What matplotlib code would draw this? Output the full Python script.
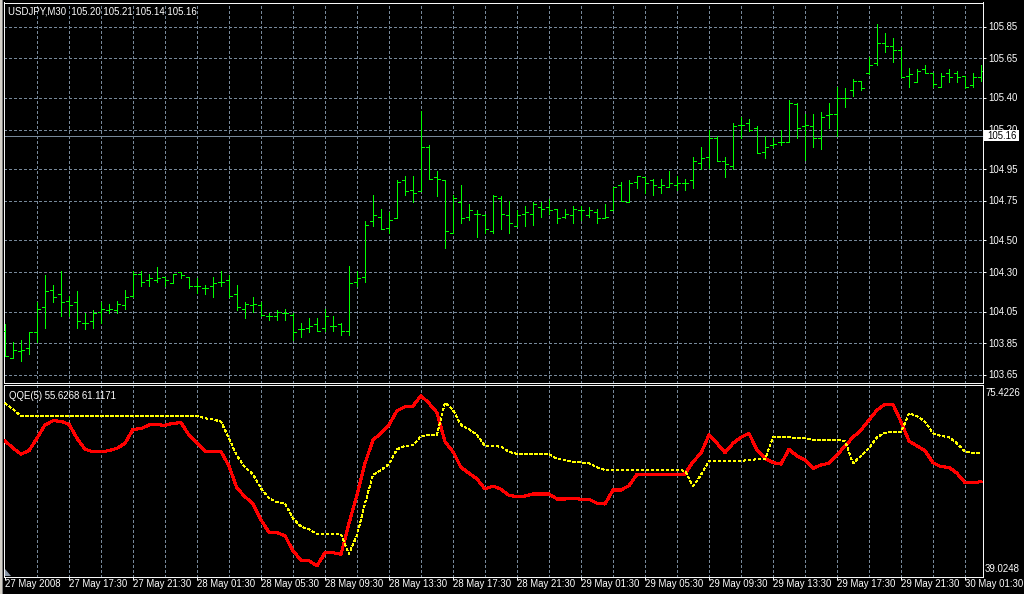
import numpy as np
import matplotlib
matplotlib.use("Agg")
import matplotlib.pyplot as plt
import matplotlib.transforms as mtransforms
from matplotlib.patches import Rectangle, Polygon

# ---------- данные (USDJPY M30, 123 бара) ----------
opens = [103.93, 103.76, 103.80, 103.82, 103.92, 104.08, 104.19, 104.16, 104.12, 104.11,
         103.98, 103.99, 104.05, 104.06, 104.06, 104.09, 104.15, 104.29, 104.25, 104.25,
         104.27, 104.23, 104.30, 104.27, 104.21, 104.20, 104.21, 104.24, 104.25, 104.16,
         104.07, 104.09, 104.09, 104.02, 104.02, 104.04, 104.03, 103.94, 103.95, 103.97,
         103.95, 103.96, 103.97, 103.93, 104.24, 104.27, 104.62, 104.65, 104.58, 104.64,
         104.88, 104.82, 104.81, 105.09, 104.90, 104.88, 104.55, 104.74, 104.65, 104.67,
         104.66, 104.56, 104.77, 104.66, 104.59, 104.67, 104.67, 104.71, 104.71, 104.70,
         104.65, 104.66, 104.69, 104.66, 104.68, 104.64, 104.69, 104.85, 104.74, 104.87,
         104.90, 104.88, 104.84, 104.84, 104.85, 104.86, 104.88, 104.99, 105.03, 105.15,
         105.00, 104.97, 105.23, 105.24, 105.21, 105.06, 105.10, 105.12, 105.12, 105.36,
         105.22, 105.22, 105.15, 105.29, 105.30, 105.40, 105.45, 105.51, 105.56, 105.62,
         105.75, 105.73, 105.70, 105.54, 105.50, 105.58, 105.56, 105.47, 105.56, 105.56,
         105.54, 105.48, 105.53]
highs = [103.97, 103.86, 103.87, 103.92, 104.11, 104.28, 104.22, 104.31, 104.15, 104.18,
         104.04, 104.06, 104.11, 104.10, 104.12, 104.19, 104.31, 104.31, 104.29, 104.33,
         104.27, 104.29, 104.30, 104.27, 104.26, 104.22, 104.27, 104.31, 104.28, 104.22,
         104.11, 104.14, 104.11, 104.04, 104.06, 104.07, 104.04, 103.98, 104.01, 104.01,
         104.07, 104.02, 103.98, 104.34, 104.31, 104.62, 104.79, 104.70, 104.68, 104.88,
         104.91, 104.91, 105.32, 105.10, 104.94, 104.88, 104.79, 104.85, 104.73, 104.69,
         104.67, 104.79, 104.78, 104.75, 104.69, 104.72, 104.74, 104.74, 104.76, 104.70,
         104.70, 104.72, 104.72, 104.71, 104.70, 104.73, 104.84, 104.87, 104.88, 104.91,
         104.90, 104.89, 104.89, 104.94, 104.91, 104.89, 105.03, 105.09, 105.20, 105.16,
         105.03, 105.24, 105.28, 105.27, 105.22, 105.16, 105.15, 105.20, 105.39, 105.37,
         105.30, 105.30, 105.31, 105.37, 105.47, 105.46, 105.52, 105.51, 105.66, 105.87,
         105.81, 105.78, 105.72, 105.59, 105.58, 105.61, 105.56, 105.56, 105.58, 105.57,
         105.54, 105.56, 105.61]
lows = [103.77, 103.76, 103.74, 103.78, 103.86, 103.95, 104.11, 104.02, 104.02, 103.95,
        103.94, 103.95, 103.98, 104.04, 104.04, 104.07, 104.14, 104.21, 104.21, 104.24,
        104.21, 104.23, 104.26, 104.20, 104.17, 104.16, 104.14, 104.21, 104.14, 104.06,
        104.01, 104.05, 104.02, 104.00, 104.00, 104.00, 103.87, 103.89, 103.92, 103.93,
        103.93, 103.93, 103.90, 103.90, 104.21, 104.24, 104.59, 104.57, 104.55, 104.64,
        104.79, 104.74, 104.81, 104.89, 104.78, 104.45, 104.55, 104.61, 104.63, 104.52,
        104.55, 104.55, 104.57, 104.55, 104.59, 104.59, 104.60, 104.65, 104.67, 104.61,
        104.64, 104.61, 104.63, 104.65, 104.61, 104.64, 104.69, 104.75, 104.74, 104.83,
        104.80, 104.79, 104.80, 104.84, 104.82, 104.82, 104.83, 104.95, 104.96, 105.00,
        104.90, 104.95, 105.15, 105.19, 105.05, 105.02, 105.09, 105.10, 105.12, 105.15,
        105.01, 105.09, 105.08, 105.21, 105.16, 105.34, 105.41, 105.45, 105.55, 105.61,
        105.69, 105.63, 105.53, 105.47, 105.50, 105.56, 105.47, 105.47, 105.50, 105.50,
        105.46, 105.47, 105.51]
closes = [103.77, 103.81, 103.81, 103.92, 104.07, 104.18, 104.14, 104.11, 104.09, 103.99,
          103.98, 104.04, 104.07, 104.07, 104.10, 104.14, 104.29, 104.24, 104.26, 104.26,
          104.25, 104.29, 104.28, 104.21, 104.21, 104.20, 104.23, 104.24, 104.15, 104.08,
          104.10, 104.10, 104.03, 104.02, 104.05, 104.04, 103.92, 103.94, 103.96, 103.93,
          104.02, 103.96, 103.93, 104.23, 104.26, 104.60, 104.66, 104.57, 104.63, 104.87,
          104.81, 104.80, 105.09, 104.89, 104.89, 104.56, 104.77, 104.64, 104.69, 104.67,
          104.57, 104.78, 104.67, 104.61, 104.66, 104.68, 104.73, 104.70, 104.69, 104.64,
          104.67, 104.70, 104.69, 104.69, 104.64, 104.65, 104.84, 104.75, 104.86, 104.91,
          104.86, 104.85, 104.85, 104.86, 104.86, 104.86, 105.00, 105.02, 105.15, 105.00,
          104.98, 105.22, 105.23, 105.20, 105.05, 105.09, 105.11, 105.12, 105.37, 105.21,
          105.23, 105.15, 105.28, 105.30, 105.40, 105.40, 105.51, 105.46, 105.61, 105.75,
          105.73, 105.70, 105.53, 105.55, 105.57, 105.56, 105.49, 105.54, 105.53, 105.53,
          105.47, 105.53, 105.57]

# QQE(5): красная линия и жёлтая пунктирная
qqe_main = [65.80, 64.18, 62.96, 63.67, 66.32, 69.16, 70.08, 69.95, 69.31, 66.32,
            63.96, 63.45, 63.45, 63.67, 64.18, 65.25, 68.24, 68.37, 69.16, 69.22,
            69.09, 69.52, 69.65, 67.02, 65.38, 63.60, 63.45, 63.45, 60.40, 55.63,
            53.84, 52.28, 48.86, 46.23, 46.14, 45.50, 42.23, 40.31, 40.16, 39.03,
            41.87, 41.87, 41.53, 48.15, 54.20, 60.97, 65.95, 67.38, 69.16, 72.21,
            73.07, 73.22, 75.42, 73.79, 71.79, 65.59, 63.45, 60.12, 58.84, 57.62,
            55.48, 56.12, 55.42, 54.13, 53.84, 53.98, 54.41, 54.41, 54.41, 53.34,
            53.34, 53.49, 53.28, 53.28, 52.42, 52.28, 55.27, 55.27, 56.19, 58.62,
            58.62, 58.62, 58.62, 58.62, 58.62, 58.69, 61.31, 63.11, 67.02, 65.25,
            63.24, 65.25, 66.53, 67.38, 63.81, 62.04, 61.10, 60.82, 63.96, 62.53,
            61.68, 59.90, 60.61, 60.97, 62.75, 64.67, 66.53, 68.09, 70.23, 72.36,
            73.58, 73.58, 69.86, 65.74, 64.67, 63.67, 61.10, 60.25, 60.12, 58.84,
            56.83, 56.83, 57.04]
qqe_signal = [73.79, 72.51, 71.08, 71.08, 71.08, 71.08, 71.08, 71.08, 71.08, 71.08,
              71.08, 71.08, 71.08, 71.08, 71.08, 71.08, 71.08, 71.08, 71.08, 71.08,
              71.08, 71.08, 71.08, 71.08, 71.08, 70.59, 70.38, 69.86, 66.32, 62.53,
              60.12, 58.62, 55.63, 53.49, 52.70, 52.42, 49.22, 47.42, 46.87, 45.86,
              45.86, 45.86, 45.86, 41.59, 45.65, 52.42, 58.47, 59.54, 60.82, 63.96,
              64.67, 64.82, 66.81, 67.02, 67.02, 73.92, 72.36, 69.16, 68.24, 67.02,
              64.67, 64.67, 64.52, 63.45, 62.96, 62.96, 62.96, 62.96, 62.96, 61.89,
              61.68, 61.31, 61.19, 60.97, 60.12, 59.54, 59.54, 59.54, 59.54, 59.54,
              59.54, 59.54, 59.54, 59.54, 59.54, 59.39, 56.12, 58.47, 61.46, 61.46,
              61.46, 61.46, 61.46, 61.68, 61.83, 61.83, 66.53, 66.53, 66.53, 66.32,
              66.32, 65.95, 65.95, 65.95, 65.95, 65.80, 60.97, 62.53, 64.18, 66.53,
              67.51, 67.60, 67.60, 71.66, 71.08, 69.86, 67.38, 66.81, 66.53, 65.25,
              63.45, 63.24, 63.24]

time_labels = ["27 May 2008", "27 May 17:30", "27 May 21:30", "28 May 01:30",
               "28 May 05:30", "28 May 09:30", "28 May 13:30", "28 May 17:30",
               "28 May 21:30", "29 May 01:30", "29 May 05:30", "29 May 09:30",
               "29 May 13:30", "29 May 17:30", "29 May 21:30", "30 May 01:30"]
price_labels = ["105.85", "105.65", "105.40", "105.20", "104.95", "104.75",
                "104.50", "104.30", "104.05", "103.85", "103.65"]
bid = 105.16
qqe_max, qqe_min = 75.4226, 39.0248
header = "USDJPY,M30  105.20 105.21 105.14 105.16"
qqe_header = "QQE(5) 55.6268 61.1171"

# ---------- оформление ----------
W, H = 1024, 594
GRID = "#778899"
LIME = "#00ff00"
LW1 = 0.7  # ровно один пиксель
plt.rcParams["font.family"] = ["Liberation Sans", "DejaVu Sans"]
plt.rcParams["font.size"] = 6.9


def fx(px):
    return px / W


def fy(py):
    return 1 - py / H


idx = np.arange(len(opens))
price_vals = [float(p) for p in price_labels]
label_idx = np.arange(0, len(time_labels)) * 8
grid_idx = np.arange(4, 121, 4)

fig = plt.figure(figsize=(W / 100, H / 100), dpi=100, facecolor="black")
ax = fig.add_axes([fx(4), fy(383.3), fx(982.5) - fx(4), fy(2.5) - fy(383.3)])
ax2 = fig.add_axes([fx(4), fy(576.5), fx(982.5) - fx(4), fy(385.3) - fy(576.5)])

for a in (ax, ax2):
    a.set_facecolor("black")
    a.set_xlim(-0.125, 122.19)
    for s in a.spines.values():
        s.set_color("white")
        s.set_linewidth(LW1)
    a.vlines(grid_idx, 0, 1, transform=a.get_xaxis_transform(), colors=GRID,
             linewidth=LW1, linestyles=[(0, (3, 3))], antialiased=False, zorder=1)

ax.set_ylim(103.598, 106.003)
ax2.set_ylim(36.78, 77.64)

# ---------- верхнее окно: бары ----------
ax.hlines(price_vals, 0, 1, transform=ax.get_yaxis_transform(), colors=GRID,
          linewidth=LW1, linestyles=[(0, (3, 3))], antialiased=False, zorder=1)
ax.axhline(bid, color=GRID, linewidth=LW1, antialiased=False, zorder=2)
ax.vlines(idx, lows, highs, colors=LIME, linewidth=LW1, antialiased=False, zorder=3)
ax.hlines(opens, idx - 0.33, idx, colors=LIME, linewidth=LW1, antialiased=False, zorder=3)
ax.hlines(closes, idx, idx + 0.33, colors=LIME, linewidth=LW1, antialiased=False, zorder=3)

ax.set_xticks([])
ax.yaxis.tick_right()
ax.set_yticks(price_vals)
ax.tick_params(axis="y", right=True, left=False, length=2.2, width=LW1,
               color="white", labelright=False, labelleft=False)

# подписи цен (базовая линия сдвинута вниз на половину высоты цифр)
down = mtransforms.ScaledTranslation(0, -3.4 / 100, fig.dpi_scale_trans)
ptrans = mtransforms.blended_transform_factory(fig.transFigure, ax.transData) + down
for v, s in zip(price_vals, price_labels):
    fig.text(fx(988), v, s, transform=ptrans, color="white", va="baseline", ha="left")

# плашка текущей цены
fig.add_artist(Rectangle((fx(984.3), fy(141)), fx(1018.5) - fx(984.3), 11 / H,
                         transform=fig.transFigure, facecolor="white",
                         edgecolor="none", zorder=5))
fig.text(fx(987), bid, f"{bid:.2f}", transform=ptrans, color="black",
         va="baseline", ha="left", zorder=6)

fig.text(fx(8.3), fy(14), header, color="white", va="baseline", ha="left")

# ---------- нижнее окно: QQE ----------
ax2.plot(idx, qqe_main, color="#ff0000", linewidth=1.5, antialiased=False, zorder=3)
ax2.plot(idx, qqe_signal, color="#ffff00", linewidth=LW1, linestyle=(0, (3, 3)),
         antialiased=False, zorder=4)
ax2.set_yticks([])
ax2.set_xticks(label_idx)
ax2.tick_params(axis="x", bottom=True, length=2.5, width=LW1, color="white",
                labelbottom=False)

fig.text(fx(9), fy(399.3), qqe_header, color="white", va="baseline", ha="left")
fig.text(fx(985), fy(396), f"{qqe_max:.4f}", color="white", va="baseline", ha="left")
fig.text(fx(985), fy(572.4), f"{qqe_min:.4f}", color="white", va="baseline", ha="left")

ttrans = mtransforms.blended_transform_factory(ax2.transData, fig.transFigure)
for i, s in zip(label_idx, time_labels):
    fig.text(i - 0.05, fy(587.3), s, transform=ttrans, color="white",
             va="baseline", ha="left")

# рамка окна слева и маркер прокрутки
fig.add_artist(Rectangle((0, 0), fx(1.5), 1, transform=fig.transFigure,
                         facecolor="#d4d0c8", edgecolor="none"))
fig.add_artist(Rectangle((fx(1.5), 0), fx(1.5), 1, transform=fig.transFigure,
                         facecolor="#808080", edgecolor="none"))
fig.add_artist(Polygon([(fx(5), fy(576)), (fx(5), fy(569)), (fx(11), fy(576))],
                       closed=True, transform=fig.transFigure,
                       facecolor="#8a96a6", edgecolor="none", zorder=6))

fig.savefig("out.png", dpi=100, facecolor="black")
